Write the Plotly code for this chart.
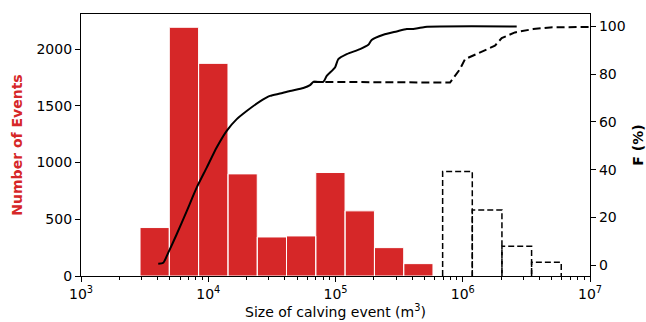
import numpy as np
import plotly.graph_objects as go

# ---- data ----
red_edges_log = [3.464, 3.694, 3.924, 4.155, 4.385, 4.615, 4.845, 5.075, 5.306, 5.536, 5.766]
red_counts = [427, 2192, 1874, 900, 344, 353, 912, 574, 250, 109]

dash_edges_log = [5.842, 6.075, 6.308, 6.541, 6.774]
dash_counts = [921, 582, 262, 121]

solid_logx = [3.607, 3.647, 3.686, 3.752, 3.831, 3.909, 3.988, 4.066, 4.145, 4.224, 4.302,
              4.407, 4.485, 4.564, 4.642, 4.747, 4.80, 4.826, 4.904, 4.931, 4.996, 5.022,
              5.088, 5.193, 5.258, 5.284, 5.376, 5.481, 5.56, 5.611, 5.703, 6.424]
solid_F = [0.7, 1.1, 5.3, 13.0, 22.7, 32.5, 40.9, 49.3, 56.3, 61.2, 64.6,
           68.6, 70.9, 71.9, 73.0, 74.2, 75.4, 76.8, 76.8, 79.3, 82.8, 86.3,
           88.4, 90.5, 92.3, 94.3, 96.5, 97.9, 98.9, 98.9, 99.8, 100.0]

dashed_logx = [4.826, 5.9, 5.939, 5.978, 6.018, 6.11, 6.253, 6.306, 6.41, 6.554, 6.686, 6.974, 7.0]
dashed_F = [76.8, 76.5, 79.3, 82.1, 86.3, 88.4, 91.9, 95.1, 97.5, 98.9, 99.6, 99.8, 99.8]

x_ticks = [3, 4, 5, 6, 7]
left_ticks = [0, 500, 1000, 1500, 2000]
right_ticks = [0, 20, 40, 60, 80, 100]

RED = "#d62728"
FONT = "DejaVu Sans"

fig = go.Figure()

# red histogram bars as polygons
px_, py_ = [], []
for i, c in enumerate(red_counts):
    a, b = 10 ** red_edges_log[i], 10 ** red_edges_log[i + 1]
    px_ += [a, a, b, b, a, None]
    py_ += [0, c, c, 0, 0, None]
fig.add_trace(go.Scatter(x=px_, y=py_, mode="lines", fill="toself", fillcolor=RED,
                         line=dict(color="white", width=1), showlegend=False, hoverinfo="skip"))

# dashed outline bars
dx, dy = [], []
for i, c in enumerate(dash_counts):
    a, b = 10 ** dash_edges_log[i], 10 ** dash_edges_log[i + 1]
    dx += [a, a, b, b, None]
    dy += [0, c, c, 0, None]
fig.add_trace(go.Scatter(x=dx, y=dy, mode="lines", line=dict(color="black", width=1.5, dash="6px,3px"),
                         showlegend=False, hoverinfo="skip"))

# CDF curves on right axis
fig.add_trace(go.Scatter(x=[10 ** v for v in dashed_logx], y=dashed_F, mode="lines", yaxis="y2",
                         line=dict(color="black", width=2, dash="8px,4px"), showlegend=False))
fig.add_trace(go.Scatter(x=[10 ** v for v in solid_logx], y=solid_F, mode="lines", yaxis="y2",
                         line=dict(color="black", width=2, shape="spline", smoothing=0.6), showlegend=False))

minor_vals = [k * 10 ** n for n in range(3, 7) for k in range(2, 10)]

fig.update_layout(
    width=646, height=322,
    margin=dict(l=81, r=56, t=14, b=46, autoexpand=False),
    plot_bgcolor="white", paper_bgcolor="white",
    font=dict(family=FONT, size=13, color="black"),
    xaxis=dict(type="log", range=[3, 7], tickvals=[10 ** v for v in x_ticks],
               ticktext=[f"10<sup>{v}</sup>" for v in x_ticks], automargin=False,
               ticks="outside", ticklen=5, tickcolor="black", showgrid=False, zeroline=False,
               showline=True, linecolor="black", linewidth=1.2, mirror=True,
               minor=dict(tickvals=minor_vals, ticks="outside", ticklen=3, tickcolor="black", showgrid=False),
               title=dict(text="Size of calving event (m<sup>3</sup>)", font=dict(size=14), standoff=6),
               tickfont=dict(size=14)),
    yaxis=dict(range=[0, 2309], tickvals=left_ticks, ticks="outside", ticklen=5, tickcolor="black",
               showgrid=False, zeroline=False, showline=True, linecolor="black", linewidth=1.2,
               automargin=False,
               title=dict(text="<b>Number of Events</b>", font=dict(color=RED, size=14), standoff=10),
               tickfont=dict(size=14)),
    yaxis2=dict(overlaying="y", side="right", range=[-4.47, 105.2], tickvals=right_ticks,
                ticks="outside", ticklen=5, tickcolor="black", showgrid=False, zeroline=False,
                showline=True, linecolor="black", linewidth=1.2, automargin=False,
                title=dict(text="<b>F (%)</b>", font=dict(size=14), standoff=10),
                tickfont=dict(size=14)),
)

fig.write_html("out.html")
